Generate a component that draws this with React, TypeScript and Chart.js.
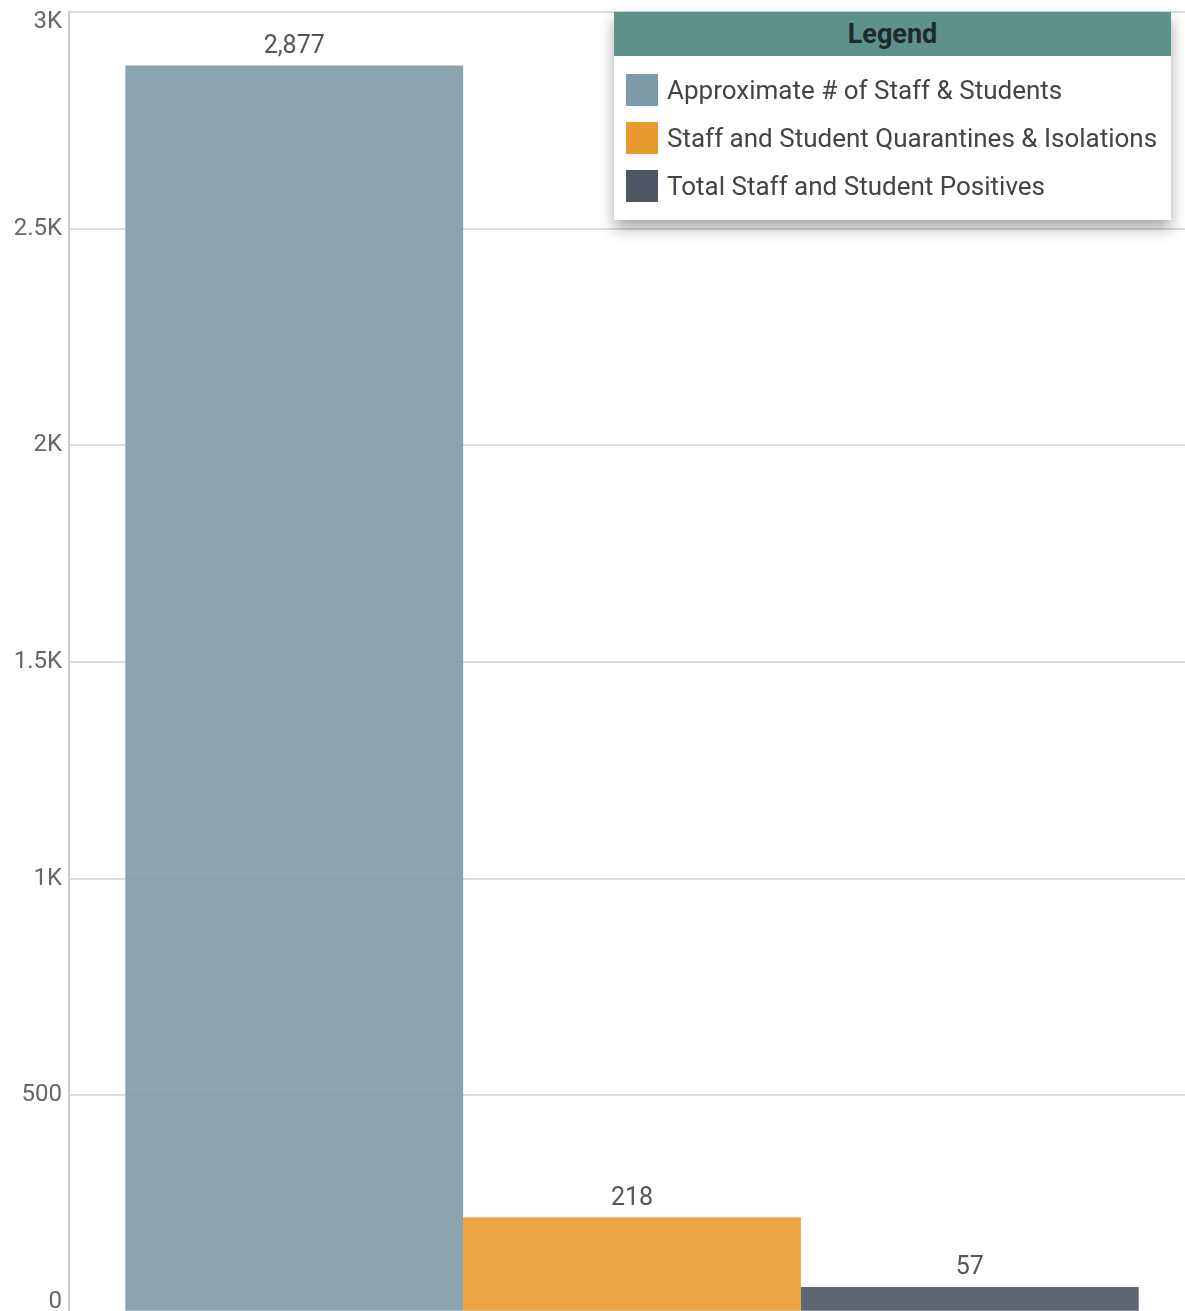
import React, { useEffect, useRef } from 'react';
import { Chart, registerables } from 'chart.js';

Chart.register(...registerables);

const categories = [''];
const seriesLabels = [
  'Approximate # of Staff & Students',
  'Staff and Student Quarantines & Isolations',
  'Total Staff and Student Positives',
];
const seriesValues = [2877, 218, 57];
const swatchColors = ['#7d9aa8', '#e89a2e', '#4f5562'];
const barColors = ['rgba(125,154,168,0.9)', 'rgba(232,154,46,0.9)', 'rgba(79,85,98,0.9)'];
const yTickValues = [0, 500, 1000, 1500, 2000, 2500, 3000];
const yTickLabels = ['0', '500', '1K', '1.5K', '2K', '2.5K', '3K'];

const FONT = 'Roboto, "Liberation Sans", Arial, sans-serif';

const valueLabelPlugin = {
  id: 'valueLabels',
  afterDatasetsDraw(chart: any) {
    const ctx = chart.ctx;
    ctx.save();
    ctx.font = `25px ${FONT}`;
    ctx.fillStyle = '#555555';
    ctx.textAlign = 'center';
    ctx.textBaseline = 'middle';
    chart.data.datasets.forEach((ds: any, i: number) => {
      const meta = chart.getDatasetMeta(i);
      meta.data.forEach((el: any, j: number) => {
        const v = ds.data[j];
        ctx.fillText(Number(v).toLocaleString('en-US'), el.x, el.y - 19);
      });
    });
    ctx.restore();
  },
};

const SHIFT = 14;
const CANVAS_H = 1352;

export default function App() {
  const ref = useRef<HTMLCanvasElement | null>(null);

  useEffect(() => {
    if (!ref.current) return;
    const maxV = yTickValues[yTickValues.length - 1];
    const chart = new Chart(ref.current, {
      type: 'bar',
      data: {
        labels: categories,
        datasets: seriesLabels.map((label, i) => ({
          label,
          data: [seriesValues[i]],
          backgroundColor: barColors[i],
          borderWidth: 0,
          categoryPercentage: 0.9,
          barPercentage: 1.0,
        })),
      },
      options: {
        animation: false,
        responsive: false,
        maintainAspectRatio: false,
        devicePixelRatio: 1,
        layout: { autoPadding: false, padding: { top: 11, bottom: 0, left: 0, right: 0 } },
        plugins: {
          legend: { display: false },
          tooltip: { enabled: false },
          title: { display: false },
        },
        scales: {
          x: {
            display: false,
            grid: { display: false },
          },
          y: {
            min: 0,
            max: maxV,
            afterFit: (scale: any) => {
              scale.width = 69;
            },
            afterBuildTicks: (scale: any) => {
              scale.ticks = yTickValues.map((v) => ({ value: v }));
            },
            ticks: {
              padding: 7,
              color: '#666666',
              font: (ctx: any) => {
                const v = ctx.tick ? ctx.tick.value : null;
                const edge = v === 0 || v === maxV;
                return { family: FONT, size: 24, lineHeight: edge ? 0.8 : 1.2 };
              },
              callback: (v: any) => {
                const idx = yTickValues.indexOf(Number(v));
                if (idx < 0) return '';
                const lbl = yTickLabels[idx];
                if (Number(v) === 0) return [lbl, ''];
                if (Number(v) === maxV) return ['', lbl];
                return lbl;
              },
            },
            grid: {
              color: '#dcdcdc',
              lineWidth: 2,
              drawTicks: false,
            },
            border: { display: true, color: '#cccccc', width: 2 },
          },
        },
      },
      plugins: [valueLabelPlugin],
    });
    return () => chart.destroy();
  }, []);

  return (
    <div style={{ position: 'fixed', left: 0, top: -SHIFT, width: 1195, height: CANVAS_H, background: '#fff', overflow: 'visible' }}>
      <canvas ref={ref} width={1195} height={CANVAS_H} style={{ width: 1195, height: CANVAS_H, display: 'block' }} />
      <div
        style={{
          position: 'absolute',
          left: 614,
          top: 12 + SHIFT,
          width: 557,
          height: 208,
          background: '#ffffff',
          boxShadow: '0 8px 14px rgba(0,0,0,0.35)',
          fontFamily: FONT,
        }}
      >
        <div
          style={{
            height: 44,
            background: '#5e918a',
            color: '#1e2b2b',
            fontWeight: 'bold',
            fontSize: 27,
            lineHeight: '44px',
            textAlign: 'center',
          }}
        >
          Legend
        </div>
        {seriesLabels.map((label, i) => (
          <div
            key={label}
            style={{
              position: 'absolute',
              left: 12,
              top: 62 + i * 48,
              height: 32,
              display: 'flex',
              alignItems: 'center',
              whiteSpace: 'nowrap',
            }}
          >
            <span style={{ display: 'inline-block', width: 32, height: 32, background: swatchColors[i], marginRight: 9, flex: 'none' }} />
            <span style={{ fontSize: 26, color: '#444444' }}>{label}</span>
          </div>
        ))}
      </div>
    </div>
  );
}
